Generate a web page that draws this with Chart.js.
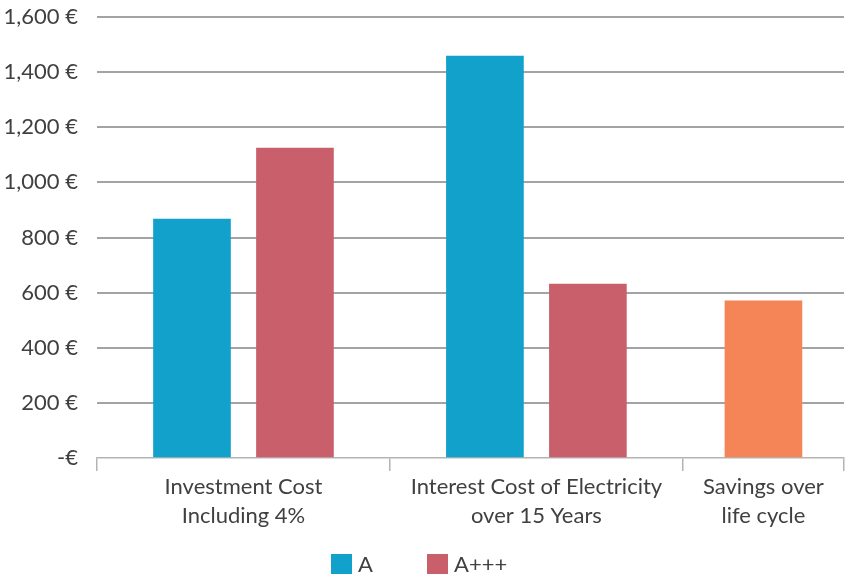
<!DOCTYPE html>
<html>
<head>
<meta charset="utf-8">
<script src="https://cdn.jsdelivr.net/npm/chart.js@4.4.1/dist/chart.umd.min.js"></script>
<style>
  html, body { margin: 0; padding: 0; background: #ffffff; }
  #wrap { width: 847px; height: 577px; position: relative; }
  #legend { position: absolute; left: 331px; top: 553px; display: flex; align-items: center;
            font-family: Lato, 'Open Sans', sans-serif; font-size: 22px; color: #404040; line-height: 22px; }
  .item { display: flex; align-items: center; }
  .box { width: 21px; height: 20px; margin-right: 6px; }
</style>
</head>
<body>
<div id="wrap"><canvas id="c"></canvas><div id="legend"></div></div>
<script>
// ---- data ----
const categories = [
  ["Investment Cost", "Including 4%"],
  ["Interest Cost of Electricity", "over 15 Years"],
  ["Savings over", "life cycle"]
];
const seriesNames = ["A", "A+++", "Savings"];
const seriesA = [867, 1458, null];
const seriesAppp = [1124, 631, null];
const seriesSavings = [null, null, 570];
const yTickValues = [0, 200, 400, 600, 800, 1000, 1200, 1400, 1600];

// ---- layout (relative category widths on the x axis) ----
const catSpan = [1, 1, 0.55];
const barStep = 0.3515; // centre-to-centre distance of bars inside a group, in category units

const bounds = [0];
catSpan.forEach((w, i) => bounds.push(bounds[i] + w));
const centers = catSpan.map((w, i) => bounds[i] + w / 2);

const allSeries = [seriesA, seriesAppp, seriesSavings];
function pointsFor(sIdx) {
  const pts = [];
  categories.forEach((c, i) => {
    const present = allSeries.map((s, k) => s[i] != null ? k : -1).filter(k => k >= 0);
    const slot = present.indexOf(sIdx);
    if (slot < 0) return;
    const x = centers[i] + (slot - (present.length - 1) / 2) * barStep;
    pts.push({ x: x, y: allSeries[sIdx][i] });
  });
  return pts;
}

const colors = ["#11a1ca", "#c95f6a", "#f58456"];
const textColor = "#404040";
const FONT = "Lato, 'Open Sans', sans-serif";

const isBound = v => bounds.some(b => Math.abs(b - v) < 1e-6);

const chart = new Chart(document.getElementById('c'), {
  type: 'bar',
  data: {
    datasets: allSeries.map((s, k) => ({
      label: seriesNames[k],
      data: pointsFor(k),
      backgroundColor: colors[k],
      borderWidth: 0,
      barThickness: 77,
      grouped: false
    }))
  },
  options: {
    responsive: true,
    maintainAspectRatio: false,
    animation: false,
    layout: { padding: { top: 17, right: 3, left: 0, bottom: 37 } },
    plugins: {
      tooltip: { enabled: false },
      legend: { display: false }
    },
    scales: {
      x: {
        type: 'linear',
        offset: false,
        min: bounds[0],
        max: bounds[bounds.length - 1],
        afterBuildTicks: scale => {
          const vals = bounds.concat(centers).sort((a, b) => a - b);
          scale.ticks = vals.map(v => ({ value: v }));
        },
        afterFit: scale => {
          scale.height = 82;
          scale.paddingLeft = 0; scale.paddingRight = 0;
          scale.paddingTop = 0; scale.paddingBottom = 0;
        },
        ticks: {
          autoSkip: false,
          maxRotation: 0,
          minRotation: 0,
          padding: 2,
          color: textColor,
          font: { family: FONT, size: 22, lineHeight: 1.3 },
          callback: function (v) {
            const i = centers.findIndex(c => Math.abs(c - v) < 1e-6);
            return i >= 0 ? categories[i] : '';
          }
        },
        grid: {
          offset: false,
          drawOnChartArea: false,
          drawTicks: true,
          tickLength: 13,
          lineWidth: 1.5,
          color: ctx => (ctx.tick && isBound(ctx.tick.value)) ? '#b4b4b4' : 'rgba(0,0,0,0)'
        },
        border: { display: true, color: '#b4b4b4', width: 1.5 }
      },
      y: {
        min: 0,
        max: 1600,
        afterBuildTicks: scale => { scale.ticks = yTickValues.map(v => ({ value: v })); },
        afterFit: scale => {
          scale.width = 97;
          scale.paddingTop = 0; scale.paddingBottom = 0;
        },
        ticks: {
          padding: 19,
          color: textColor,
          font: { family: FONT, size: 22 },
          callback: v => v === 0 ? '-€' : v.toLocaleString('en-US') + ' €'
        },
        grid: {
          drawTicks: false,
          lineWidth: 2,
          color: ctx => (ctx.tick && ctx.tick.value === 0) ? 'rgba(0,0,0,0)' : '#a3a3a7'
        },
        border: { display: false }
      }
    }
  }
});

// HTML legend built from the chart's datasets (first two series only)
const legendEl = document.getElementById('legend');
chart.data.datasets.slice(0, 2).forEach((ds, i) => {
  const item = document.createElement('div');
  item.className = 'item';
  if (i === 0) item.style.width = '96px';
  const box = document.createElement('span');
  box.className = 'box';
  box.style.background = ds.backgroundColor;
  const txt = document.createElement('span');
  txt.textContent = ds.label;
  item.appendChild(box);
  item.appendChild(txt);
  legendEl.appendChild(item);
});
</script>
</body>
</html>
